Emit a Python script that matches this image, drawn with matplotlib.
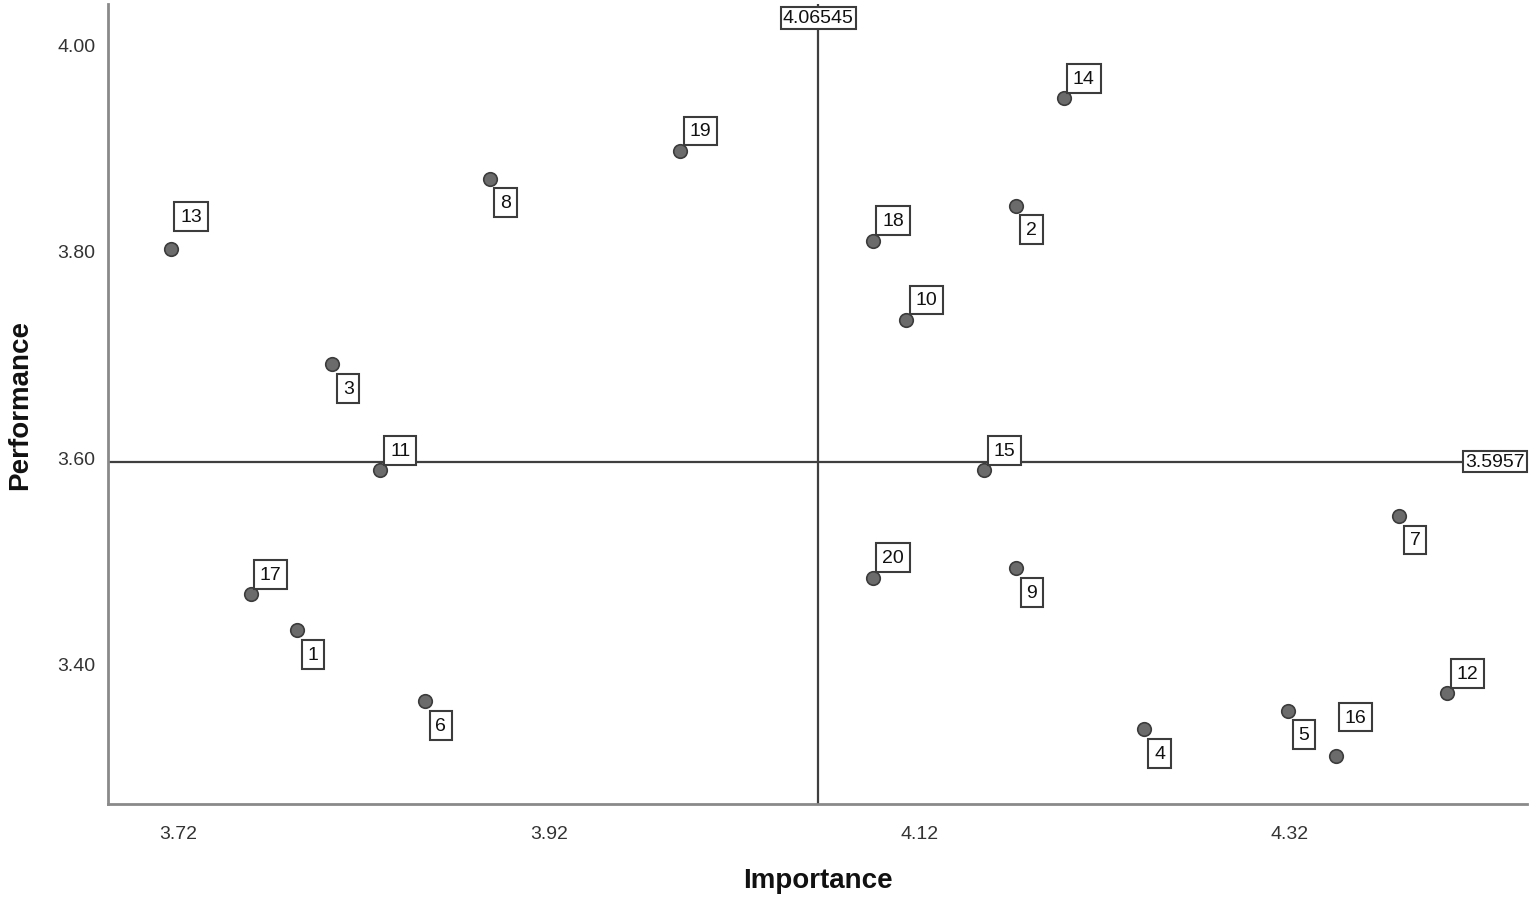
import matplotlib.pyplot as plt
import numpy as np

# IPA data
item_ids = ['1', '2', '3', '4', '5', '6', '7', '8', '9', '10',
            '11', '12', '13', '14', '15', '16', '17', '18', '19', '20']
importance = [3.784, 4.172, 3.803, 4.241, 4.319, 3.853, 4.379, 3.888, 4.172, 4.113,
              3.829, 4.405, 3.716, 4.198, 4.155, 4.345, 3.759, 4.095, 3.991, 4.095]
performance = [3.432, 3.844, 3.690, 3.336, 3.354, 3.363, 3.543, 3.870, 3.492, 3.733,
               3.587, 3.371, 3.802, 3.948, 3.587, 3.310, 3.467, 3.810, 3.897, 3.483]
# label placement: 'up' = above right of the point, 'down' = below right
label_side = ['down', 'down', 'down', 'down', 'down', 'down', 'down', 'down', 'down', 'up',
              'up', 'up', 'up', 'up', 'up', 'up', 'up', 'up', 'up', 'up']
mean_importance = 4.06545
mean_performance = 3.5957
mean_importance_label = '4.06545'
mean_performance_label = '3.5957'
x_ticks = [3.72, 3.92, 4.12, 4.32]
y_ticks = [3.40, 3.60, 3.80, 4.00]

plt.rcParams['font.family'] = ['Liberation Sans', 'DejaVu Sans']

fig = plt.figure(figsize=(15.35, 9.04), dpi=100)
ax = fig.add_axes([0.0704, 0.1095, 0.9244, 0.885])

ax.set_xlim(3.682, 4.448)
ax.set_ylim(3.2635, 4.0395)

# mean lines
line_col = '#3f3f3f'
ax.axvline(mean_importance, color=line_col, lw=1.6, zorder=1)
ax.axhline(mean_performance, color=line_col, lw=1.6, zorder=1)

# points
ax.scatter(importance, performance, s=95, color='#6b6b6b', edgecolor='#3c3c3c',
           linewidth=1.2, zorder=3)

box = dict(boxstyle='square,pad=0.3', facecolor='white', edgecolor='#3c3c3c', linewidth=1.5)

offsets = {'up': (20, 20), 'down': (16, -24)}
for name, xv, yv, side in zip(item_ids, importance, performance, label_side):
    dx, dy = offsets[side]
    if name == '13':
        dy = 32
    if name == '16':
        dx, dy = 19, 39
    ax.annotate(name, (xv, yv), xytext=(dx, dy), textcoords='offset pixels',
                ha='center', va='center', fontsize=14, color='#111111',
                bbox=box, zorder=4)

# mean value labels
mbox = dict(boxstyle='square,pad=0.12', facecolor='white', edgecolor='#3c3c3c', linewidth=1.5)
ax.annotate(mean_importance_label, (mean_importance, 1), xycoords=('data', 'axes fraction'),
            xytext=(0, -14), textcoords='offset pixels', ha='center', va='center',
            fontsize=14, color='#111111', bbox=mbox, zorder=5)
ax.annotate(mean_performance_label, (1, mean_performance), xycoords=('axes fraction', 'data'),
            xytext=(-2, 0), textcoords='offset pixels', ha='right', va='center',
            fontsize=14, color='#111111', bbox=mbox, zorder=5)

# axes styling
ax.spines['top'].set_visible(False)
ax.spines['right'].set_visible(False)
ax.spines['left'].set_color('#8a8a8a')
ax.spines['bottom'].set_color('#8a8a8a')
ax.spines['left'].set_linewidth(2)
ax.spines['bottom'].set_linewidth(2)

ax.set_xticks(x_ticks)
ax.set_xticklabels([f'{t:.2f}' for t in x_ticks])
ax.set_yticks(y_ticks)
ax.set_yticklabels([f'{t:.2f}' for t in y_ticks])
ax.tick_params(axis='both', length=0, labelsize=14, labelcolor='#333333')
ax.tick_params(axis='x', pad=15)
ax.tick_params(axis='y', pad=9)

fig.text(818 / 1535, 1 - 881 / 904, 'Importance', ha='center', va='center',
         fontsize=20, fontweight='bold', color='#111111')
fig.text(20 / 1535, 1 - 405 / 904, 'Performance', ha='center', va='center',
         rotation=90, fontsize=20, fontweight='bold', color='#111111')

fig.savefig('out.png', dpi=100, facecolor='white')
